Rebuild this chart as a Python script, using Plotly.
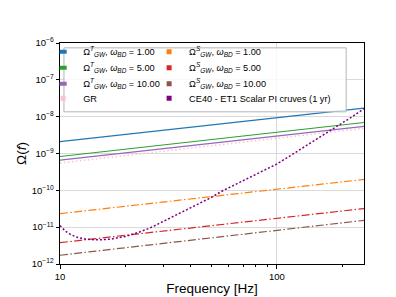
import plotly.graph_objects as go

# ---------------- data ----------------
freq_lines = [10, 100, 252]
omega_T_1 = [2.1e-9, 9.4e-9, 1.7e-8]
omega_T_5 = [8.3e-10, 3.8e-9, 6.95e-9]
omega_T_10 = [6.6e-10, 2.97e-9, 5.46e-9]
omega_GR = [5.5e-10, 2.6e-9, 4.83e-9]
omega_S_1 = [2.33e-11, 1.08e-10, 1.98e-10]
omega_S_5 = [3.8e-12, 1.74e-11, 3.2e-11]
omega_S_10 = [1.73e-12, 8.2e-12, 1.53e-11]

freq_pi = [10, 10.3, 10.6, 11.2, 12, 13, 14, 15.5, 17, 20, 23, 26, 29, 32, 36, 41, 49, 56, 63, 70,
           83, 100, 117, 135, 160, 192, 220, 252]
omega_pi = [1.1e-11, 9.2e-12, 7.8e-12, 6.3e-12, 5.3e-12, 4.8e-12, 4.6e-12, 4.55e-12, 4.7e-12,
            5.6e-12, 7.2e-12, 9.5e-12, 1.3e-11, 1.75e-11, 2.45e-11, 3.6e-11, 6.1e-11, 9.6e-11,
            1.35e-10, 1.85e-10, 3.0e-10, 5.2e-10, 9.2e-10, 1.55e-9, 3.0e-9, 5.8e-9, 9.6e-9, 1.65e-8]

y_tick_vals = [1e-12, 1e-11, 1e-10, 1e-9, 1e-8, 1e-7, 1e-6]
y_tick_text = ["10<sup>−12</sup>", "10<sup>−11</sup>", "10<sup>−10</sup>", "10<sup>−9</sup>",
               "10<sup>−8</sup>", "10<sup>−7</sup>", "10<sup>−6</sup>"]
x_tick_vals = [10, 100]
x_tick_text = ["10", "100"]
x_minor_vals = [20, 30, 40, 50, 60, 70, 80, 90, 200]

lbl_T = "Ω<sup><i>T</i></sup><sub><i>GW</i></sub>, <i>ω</i><sub><i>BD</i></sub> = "
lbl_S = "Ω<sup><i>S</i></sup><sub><i>GW</i></sub>, <i>ω</i><sub><i>BD</i></sub> = "

# ---------------- layout geometry (px) ----------------
W, H = 396, 297
ML, MR, MT, MB = 49, 40, 35, 34
PW, PH = W - ML - MR, H - MT - MB


def px_x(p):
    return (p - ML) / PW


def px_y(p):
    return (H - MB - p) / PH


FONT = "Liberation Sans, Arial, sans-serif"
DASHDOT = "8px,2.4px,1.5px,2.4px"

fig = go.Figure()

series = [
    (freq_lines, omega_T_1, "#1f77b4", "solid", 1.2, lbl_T + "1.00", "line", 0, 0),
    (freq_lines, omega_S_1, "#ff7f0e", DASHDOT, 1.2, lbl_S + "1.00", "square", 1, 0),
    (freq_lines, omega_T_5, "#2ca02c", "solid", 1.2, lbl_T + "5.00", "line", 0, 1),
    (freq_lines, omega_S_5, "#d62728", DASHDOT, 1.2, lbl_S + "5.00", "square", 1, 1),
    (freq_lines, omega_T_10, "#9467bd", "solid", 1.2, lbl_T + "10.00", "line", 0, 2),
    (freq_lines, omega_S_10, "#8c564b", DASHDOT, 1.2, lbl_S + "10.00", "square", 1, 2),
    (freq_lines, omega_GR, "#ffc0cb", "1.5px,2.5px", 1.5, "GR", "square", 0, 3),
    (freq_pi, omega_pi, "#800080", "2px,2px", 1.5, "CE40 - ET1 Scalar PI cruves (1 yr)", "square", 1, 3),
]

row_y = [44, 60.5, 77, 92]
col_sym = [52, 159]

legend_defs = {}
for i, (xs, ys, col, dash, lw, name, sym, c, r) in enumerate(series):
    lkey = "legend" if i == 0 else f"legend{i + 1}"
    fig.add_trace(go.Scatter(x=xs, y=ys, mode="lines", name=name, showlegend=False,
                             line=dict(color=col, width=lw, dash=dash)))
    if sym == "line":
        marker = dict(symbol="line-ew", size=5, color=col, line=dict(width=4, color=col))
    else:
        marker = dict(symbol="square", size=5, color=col, line=dict(width=0))
    fig.add_trace(go.Scatter(x=[None], y=[None], mode="markers", name=name, marker=marker,
                             showlegend=True, legend=lkey))
    legend_defs[lkey] = dict(
        x=px_x(col_sym[c] - 20), y=px_y(row_y[r]), xanchor="left", yanchor="middle",
        bgcolor="rgba(0,0,0,0)", borderwidth=0,
        font=dict(family=FONT, size=9.2, color="black"),
    )

fig.add_shape(type="rect", xref="paper", yref="paper",
              x0=px_x(53), x1=px_x(338), y0=px_y(40), y1=px_y(106),
              line=dict(color="#b5b5b5", width=1), fillcolor="rgba(255,255,255,0.8)",
              layer="above")

fig.update_layout(
    width=W, height=H,
    margin=dict(l=ML, r=MR, t=MT, b=MB),
    paper_bgcolor="white", plot_bgcolor="white",
    font=dict(family=FONT, color="black"),
    **legend_defs,
)

fig.update_xaxes(
    type="log", range=[1, 2.4014], showline=True, linecolor="black", linewidth=1, mirror=True,
    tickvals=x_tick_vals, ticktext=x_tick_text, ticks="outside", ticklen=3.5, tickwidth=0.8,
    tickcolor="black", tickfont=dict(size=9.5, family=FONT),
    showgrid=True, gridcolor="#dadada", gridwidth=0.8, zeroline=False,
    minor=dict(tickvals=x_minor_vals, ticks="outside", ticklen=2, tickwidth=0.6,
               tickcolor="black", showgrid=False),
    title=dict(text="Frequency [Hz]", font=dict(size=13.5, family=FONT), standoff=2),
)
fig.update_yaxes(
    type="log", range=[-12, -6], showline=True, linecolor="black", linewidth=1, mirror=True,
    tickvals=y_tick_vals, ticktext=y_tick_text, ticks="outside", ticklen=3.5, tickwidth=0.8,
    tickcolor="black", tickfont=dict(size=9.5, family=FONT),
    showgrid=True, gridcolor="#dadada", gridwidth=0.8, zeroline=False,
    title=dict(text="Ω(<i>f</i>)", font=dict(size=13.5, family=FONT), standoff=2),
)

fig.write_html("out.html")
